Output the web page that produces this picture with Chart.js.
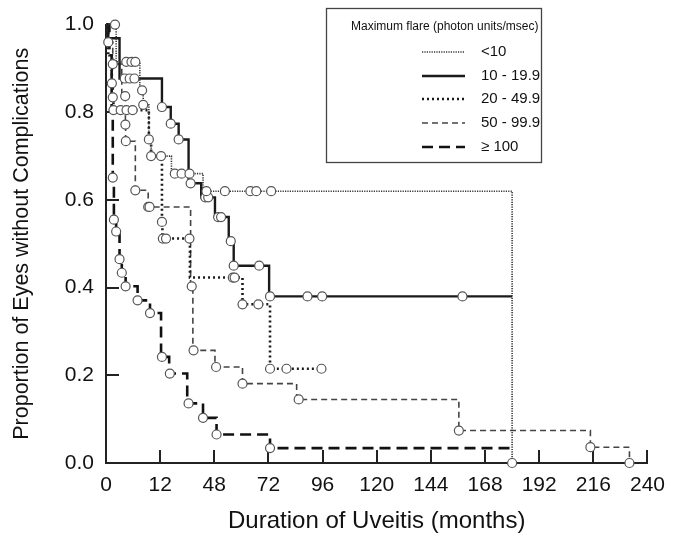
<!DOCTYPE html>
<html>
<head>
<meta charset="utf-8">
<script src="https://cdn.jsdelivr.net/npm/chart.js@4.4.1/dist/chart.umd.min.js"></script>
<style>
  html, body { margin: 0; padding: 0; background: #fff; }
</style>
</head>
<body>
<canvas id="km" width="675" height="542"></canvas>
<script>
// Kaplan-Meier curves: step times (months) and survival after each step
const seriesLabels = ['<10', '10 - 19.9', '20 - 49.9', '50 - 99.9', '\u2265 100'];

const lt10Times = [0, 4.5, 15, 16.5, 19, 20, 29, 43, 180];
const lt10Surv  = [1.0, 0.915, 0.85, 0.817, 0.738, 0.70, 0.66, 0.62, 0];
const lt10Marks = [4, 9, 11.3, 13, 16, 16.5, 19, 20, 24.4, 30.5, 33.5, 37, 44.5, 52.7, 64, 66.6, 73.2, 180];

const f10Times = [0, 1, 6, 24.8, 28.7, 32.2, 36.6, 42.2, 48.3, 54.4, 56.6, 72.3, 180];
const f10Surv  = [1.0, 0.969, 0.877, 0.812, 0.774, 0.738, 0.638, 0.606, 0.561, 0.506, 0.45, 0.38, 0.38];
const f10Marks = [8.3, 10.5, 12.6, 24.8, 28.7, 32.2, 37.5, 44, 45.3, 49.7, 51, 55.3, 56.6, 67.9, 72.7, 89.3, 95.8, 158];

const f20Times = [0, 1, 2.6, 3, 3.3, 19, 20, 24.8, 25, 37.2, 60.5, 72.7, 95.5];
const f20Surv  = [1.0, 0.93, 0.866, 0.834, 0.805, 0.738, 0.70, 0.55, 0.512, 0.423, 0.362, 0.215, 0.215];
const f20Marks = [2.6, 3, 3.3, 6.5, 9.1, 11.8, 24.8, 25.2, 26.6, 37, 56.2, 57, 60.5, 67.5, 72.7, 80, 95.5];

const f50Times = [0, 1, 3, 7, 8.6, 8.7, 13, 18.7, 37.5, 38.5, 48.3, 60.5, 84.5, 156.4, 214.7, 232];
const f50Surv  = [1.0, 0.96, 0.91, 0.837, 0.772, 0.734, 0.622, 0.584, 0.403, 0.257, 0.219, 0.181, 0.145, 0.074, 0.036, 0];
const f50Marks = [1, 3, 8.5, 8.6, 8.8, 13, 18.7, 19.3, 38, 38.8, 48.8, 60.5, 85.4, 156.4, 214.7, 232];

const f100Times = [0, 1.5, 2.5, 3, 3.5, 4.5, 6, 7, 8.7, 14, 19.5, 24.4, 28, 36, 43, 49, 72.7, 180];
const f100Surv  = [1.0, 0.93, 0.80, 0.651, 0.555, 0.528, 0.465, 0.434, 0.403, 0.371, 0.342, 0.242, 0.204, 0.136, 0.103, 0.065, 0.034, 0.034];
const f100Marks = [3, 3.5, 4.5, 6, 7, 8.7, 14, 19.5, 24.8, 28.3, 36.6, 43, 49, 72.7];

const xTickLabels = ['0', '12', '48', '72', '96', '120', '144', '168', '192', '216', '240'];
const yTickLabels = ['0.0', '0.2', '0.4', '0.6', '0.8', '1.0'];

const FONT = "'Liberation Sans', Arial, sans-serif";

// line looks per series (same order as seriesLabels)
const styles = [
  { color: '#333', width: 1.6, dash: [1.2, 1.2] },
  { color: '#1a1a1a', width: 2.4, dash: [] },
  { color: '#1a1a1a', width: 2.6, dash: [2, 3] },
  { color: '#444', width: 1.6, dash: [6, 4] },
  { color: '#111', width: 2.6, dash: [11, 6] }
];

const curves = [
  [lt10Times, lt10Surv, lt10Marks],
  [f10Times, f10Surv, f10Marks],
  [f20Times, f20Surv, f20Marks],
  [f50Times, f50Surv, f50Marks],
  [f100Times, f100Surv, f100Marks]
];

// survival level of a step curve at time t
function survAt(times, surv, t) {
  let s = surv[0];
  for (let i = 0; i < times.length; i++) {
    if (times[i] <= t) s = surv[i];
  }
  return s;
}

const lineSets = curves.map(([times, surv], i) => ({
  label: seriesLabels[i],
  data: times.map((t, k) => ({ x: t, y: surv[k] })),
  stepped: true,
  borderColor: styles[i].color,
  borderWidth: styles[i].width,
  borderDash: styles[i].dash,
  pointRadius: 0,
  fill: false,
  clip: 6,
  order: 1
}));

// open circles sit on top of every line
const markSets = curves.map(([times, surv, marks], i) => ({
  label: seriesLabels[i] + ' marks',
  isMark: true,
  data: marks.map(t => ({ x: t, y: survAt(times, surv, t) })),
  showLine: false,
  pointRadius: 4.5,
  pointBackgroundColor: '#fff',
  pointBorderColor: '#555',
  pointBorderWidth: 1.2,
  clip: 8,
  order: 0
}));

// tick marks pointing into the plot
const innerTicks = {
  id: 'innerTicks',
  beforeDatasetsDraw(chart) {
    const { ctx, chartArea, scales: { x, y } } = chart;
    ctx.save();
    ctx.strokeStyle = '#222';
    ctx.lineWidth = 2;
    ctx.beginPath();
    x.ticks.forEach(t => {
      const px = Math.round(x.getPixelForValue(t.value));
      ctx.moveTo(px, chartArea.bottom);
      ctx.lineTo(px, chartArea.bottom - 13);
    });
    y.ticks.forEach(t => {
      const py = Math.round(y.getPixelForValue(t.value));
      ctx.moveTo(chartArea.left, py);
      ctx.lineTo(chartArea.left + 13, py);
    });
    ctx.stroke();
    ctx.restore();
  }
};

// boxed legend with a title, drawn from the line datasets
const boxLegend = {
  id: 'boxLegend',
  afterDraw(chart) {
    const ctx = chart.ctx;
    const box = { left: 326, top: 8, right: 541, bottom: 162 };
    ctx.save();
    ctx.strokeStyle = '#444';
    ctx.lineWidth = 1.3;
    ctx.strokeRect(box.left + 0.5, box.top + 0.5, box.right - box.left, box.bottom - box.top);
    ctx.fillStyle = '#111';
    ctx.textBaseline = 'middle';
    ctx.font = '12px ' + FONT;
    ctx.fillText('Maximum flare (photon units/msec)', 351, 27);
    ctx.font = '15px ' + FONT;
    const rows = [52, 76, 99, 123, 147];
    chart.data.datasets.filter(d => !d.isMark).forEach((ds, i) => {
      const yy = rows[i];
      ctx.beginPath();
      ctx.strokeStyle = ds.borderColor;
      ctx.lineWidth = ds.borderWidth;
      ctx.setLineDash(ds.borderDash);
      ctx.moveTo(422, yy);
      ctx.lineTo(465, yy);
      ctx.stroke();
      ctx.setLineDash([]);
      ctx.fillText(ds.label, 481, yy);
    });
    ctx.restore();
  }
};

new Chart(document.getElementById('km'), {
  type: 'line',
  data: { datasets: [...lineSets, ...markSets] },
  options: {
    responsive: false,
    animation: false,
    devicePixelRatio: 1,
    layout: { padding: { left: 0, right: 18, top: 16, bottom: 0 } },
    plugins: {
      legend: { display: false },
      tooltip: { enabled: false }
    },
    scales: {
      x: {
        type: 'linear',
        min: 0,
        max: 240,
        afterFit: s => { s.height = 79; },
        grid: { display: false, drawTicks: false },
        border: { display: true, color: '#222', width: 2 },
        ticks: {
          stepSize: 24,
          autoSkip: false,
          maxRotation: 0,
          padding: 10,
          color: '#111',
          font: { family: FONT, size: 21 },
          callback: (v, i) => xTickLabels[i]
        },
        title: {
          display: true,
          text: 'Duration of Uveitis (months)',
          color: '#111',
          font: { family: FONT, size: 24 },
          padding: { top: 0, bottom: 6 }
        }
      },
      y: {
        min: 0,
        max: 1,
        afterFit: s => { s.width = 106; },
        grid: { display: false, drawTicks: false },
        border: { display: true, color: '#222', width: 2 },
        ticks: {
          stepSize: 0.2,
          padding: 12,
          color: '#111',
          font: { family: FONT, size: 21 },
          callback: (v, i) => yTickLabels[i]
        },
        title: {
          display: true,
          text: 'Proportion of Eyes without Complications',
          color: '#111',
          font: { family: FONT, size: 21.5 },
          padding: { top: 9, bottom: 0 }
        }
      }
    }
  },
  plugins: [innerTicks, boxLegend]
});
</script>
</body>
</html>
